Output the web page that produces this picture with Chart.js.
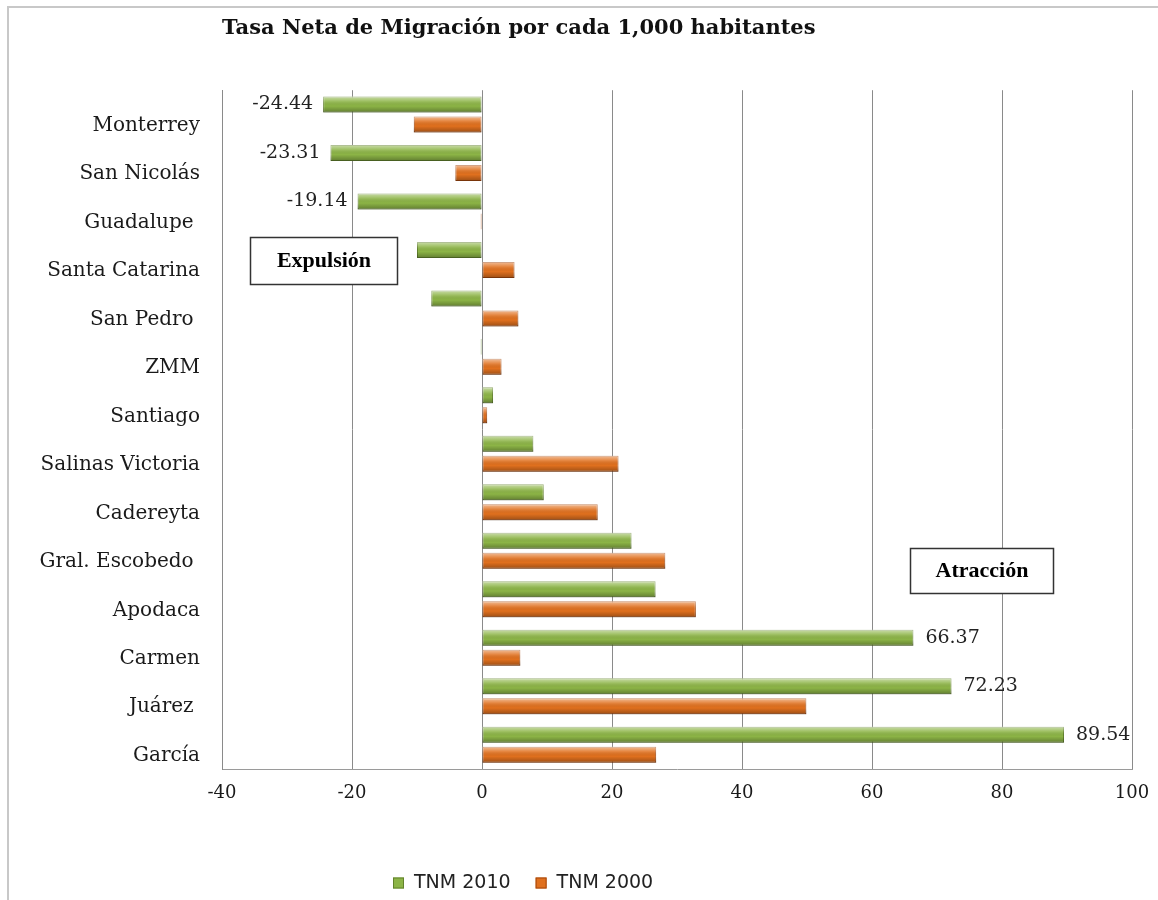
<!DOCTYPE html>
<html lang="es">
<head>
  <meta charset="UTF-8"/>
  <title>Tasa Neta de Migración</title>
  <script src="https://cdn.jsdelivr.net/npm/chart.js@4.4.0/dist/chart.umd.min.js"></script>
  <style>
    html, body { margin: 0; padding: 0; background: #fff; }
    #marco { position: absolute; left: 7px; top: 6px; width: 1151px; height: 894px;
             border-left: 2px solid #c8c8c8; border-top: 2px solid #c8c8c8; }
    #grafica { position: absolute; left: 0; top: 0; }
  </style>
</head>
<body>
  <div id="marco"></div>
  <canvas id="grafica" width="1158" height="900"></canvas>

  <script>
    // datos
    var municipios = ["Monterrey", "San Nicolás", "Guadalupe ", "Santa Catarina", "San Pedro ", "ZMM",
      "Santiago", "Salinas Victoria", "Cadereyta", "Gral. Escobedo ", "Apodaca", "Carmen", "Juárez ", "García"];
    var tnm2010 = [-24.44, -23.31, -19.14, -10.0, -7.8, -0.2, 1.7, 7.9, 9.5, 23.0, 26.7, 66.37, 72.23, 89.54];
    var tnm2000 = [-10.5, -4.1, -0.2, 5.0, 5.6, 3.0, 0.8, 21.0, 17.8, 28.2, 32.9, 5.9, 49.9, 26.8];
    var conEtiqueta = [0, 1, 2, 11, 12, 13]; // puntos de TNM 2010 que llevan su valor
    var ejeX = { min: -40, max: 100, paso: 20 };

    // brillo de las barras (efecto 3D de excel)
    var brillo = {
      id: 'brillo',
      afterDatasetsDraw: function (chart) {
        var ctx = chart.ctx;
        chart.data.datasets.forEach(function (ds, i) {
          chart.getDatasetMeta(i).data.forEach(function (bar) {
            var p = bar.getProps(['x', 'y', 'base', 'height'], true);
            var izq = Math.min(p.x, p.base), der = Math.max(p.x, p.base);
            var arriba = p.y - p.height / 2, abajo = p.y + p.height / 2;
            if (der - izq < 1) return;
            var g = ctx.createLinearGradient(0, arriba, 0, abajo);
            g.addColorStop(0, 'rgba(255,255,255,0.55)');
            g.addColorStop(0.3, 'rgba(255,255,255,0.15)');
            g.addColorStop(0.6, 'rgba(0,0,0,0)');
            g.addColorStop(1, 'rgba(0,0,0,0.3)');
            ctx.save();
            ctx.fillStyle = g;
            ctx.fillRect(izq, arriba, der - izq, abajo - arriba);
            ctx.restore();
          });
        });
      }
    };

    // valores al final de algunas barras verdes
    var etiquetas = {
      id: 'etiquetas',
      afterDatasetsDraw: function (chart) {
        var ctx = chart.ctx;
        var meta = chart.getDatasetMeta(0);
        ctx.save();
        ctx.font = '19px "DejaVu Serif"';
        ctx.fillStyle = '#222';
        ctx.textBaseline = 'middle';
        conEtiqueta.forEach(function (i) {
          var bar = meta.data[i];
          var v = tnm2010[i];
          if (v < 0) {
            ctx.textAlign = 'right';
            ctx.fillText(v.toFixed(2), bar.x - 10, bar.y);
          } else {
            ctx.textAlign = 'left';
            ctx.fillText(v.toFixed(2), bar.x + 12, bar.y);
          }
        });
        ctx.restore();
      }
    };

    // recuadros de texto Expulsión / Atracción, ubicados en unidades del grafico
    var recuadros = {
      id: 'recuadros',
      cajas: [
        { texto: 'Expulsión', x0: -35.7, x1: -13.1, y0: 2.53, y1: 3.5 },
        { texto: 'Atracción', x0: 65.8, x1: 87.8, y0: 8.95, y1: 9.86 }
      ],
      afterDraw: function (chart) {
        var ctx = chart.ctx, sx = chart.scales.x, sy = chart.scales.y;
        ctx.save();
        this.cajas.forEach(function (c) {
          var x0 = Math.round(sx.getPixelForValue(c.x0)) + 0.5;
          var x1 = Math.round(sx.getPixelForValue(c.x1)) + 0.5;
          var y0 = Math.round(sy.getPixelForValue(c.y0)) + 0.5;
          var y1 = Math.round(sy.getPixelForValue(c.y1)) + 0.5;
          ctx.fillStyle = '#fff';
          ctx.fillRect(x0, y0, x1 - x0, y1 - y0);
          ctx.strokeStyle = '#333';
          ctx.lineWidth = 1.5;
          ctx.strokeRect(x0, y0, x1 - x0, y1 - y0);
          ctx.fillStyle = '#000';
          ctx.font = 'bold 22px "Liberation Serif"';
          ctx.textAlign = 'center';
          ctx.textBaseline = 'middle';
          ctx.fillText(c.texto, (x0 + x1) / 2, (y0 + y1) / 2);
        });
        ctx.restore();
      }
    };

    // leyenda abajo, a la izquierda del centro como en el original
    var leyendaAbajo = {
      id: 'leyendaAbajo',
      afterDraw: function (chart) {
        var ctx = chart.ctx;
        var x = chart.chartArea.left + 171;
        var y = chart.height - 17;
        ctx.save();
        ctx.font = '19px "DejaVu Sans"';
        ctx.textBaseline = 'middle';
        ctx.textAlign = 'left';
        chart.data.datasets.forEach(function (ds) {
          ctx.fillStyle = ds.backgroundColor;
          ctx.fillRect(x, y - 5.5, 11, 11);
          ctx.strokeStyle = ds.borderColor;
          ctx.lineWidth = 1;
          ctx.strokeRect(x + 0.5, y - 5, 10, 10);
          ctx.fillStyle = '#222';
          ctx.fillText(ds.label, x + 21, y);
          x += 21 + ctx.measureText(ds.label).width + 25;
        });
        ctx.restore();
      }
    };

    var ctx = document.getElementById('grafica').getContext('2d');
    var chart = new Chart(ctx, {
      type: 'bar',
      data: {
        labels: municipios,
        datasets: [{
          label: 'TNM 2010',
          data: tnm2010,
          backgroundColor: '#8cb446',
          borderColor: '#62822c',
          borderWidth: 1,
          borderSkipped: false
        }, {
          label: 'TNM 2000',
          data: tnm2000,
          backgroundColor: '#e0701e',
          borderColor: '#a4470c',
          borderWidth: 1,
          borderSkipped: false
        }]
      },
      options: {
        indexAxis: 'y',
        responsive: false,
        animation: false,
        categoryPercentage: 0.825,
        barPercentage: 0.8,
        layout: { padding: { top: 7, left: 8, right: 26, bottom: 0 } },
        scales: {
          x: {
            min: ejeX.min,
            max: ejeX.max,
            ticks: {
              stepSize: ejeX.paso,
              padding: 14,
              color: '#1a1a1a',
              font: { family: 'DejaVu Serif', size: 18 }
            },
            grid: { color: '#8a8a8a', drawTicks: false },
            border: { color: '#9a9a9a' },
            afterFit: function (scale) {
              scale.height = 131;
              scale.paddingLeft = 0;
              scale.paddingRight = 0;
            }
          },
          y: {
            ticks: {
              padding: 22,
              labelOffset: 11,
              color: '#1a1a1a',
              font: { family: 'DejaVu Serif', size: 20 }
            },
            grid: { display: false, drawTicks: false },
            border: { color: '#8a8a8a' },
            afterFit: function (scale) { scale.width = 214; }
          }
        },
        plugins: {
          legend: { display: false },
          tooltip: { enabled: false },
          title: {
            display: true,
            text: 'Tasa Neta de Migración por cada 1,000 habitantes',
            align: 'start',
            fullSize: false,
            color: '#111',
            font: { family: 'DejaVu Serif', size: 21, weight: 'bold' },
            padding: { top: 9, bottom: 49 }
          }
        }
      },
      plugins: [brillo, etiquetas, recuadros, leyendaAbajo]
    });
  </script>
</body>
</html>
